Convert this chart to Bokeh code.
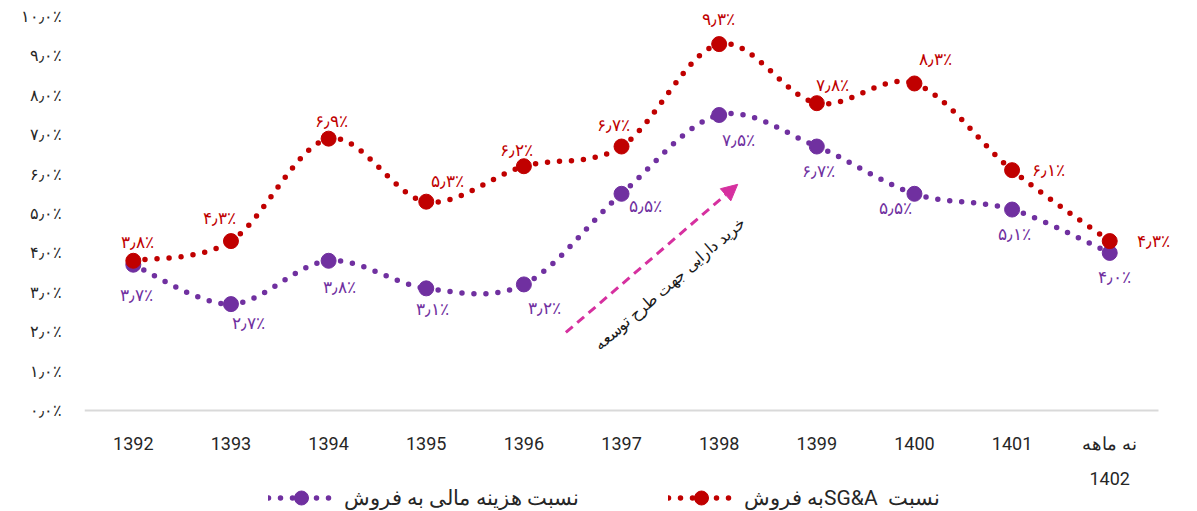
import numpy as np
from bokeh.plotting import figure
from bokeh.models import (ColumnDataSource, Range1d, FixedTicker, Legend, LegendItem,
                          Arrow, NormalHead, Label, LabelSet)
from bokeh.core.properties import value
from bokeh.embed import file_html
from bokeh.resources import INLINE

# ---------------- data ----------------
years = ["1392", "1393", "1394", "1395", "1396", "1397", "1398", "1399", "1400", "1401", "نه ماهه\n1402"]
sga_ratio = [3.8, 4.3, 6.9, 5.3, 6.2, 6.7, 9.3, 7.8, 8.3, 6.1, 4.3]
fin_ratio = [3.7, 2.7, 3.8, 3.1, 3.2, 5.5, 7.5, 6.7, 5.5, 5.1, 4.0]
y_ticks = [0, 1, 2, 3, 4, 5, 6, 7, 8, 9, 10]
y_tick_labels = ["۰٫۰٪", "۱٫۰٪", "۲٫۰٪", "۳٫۰٪", "۴٫۰٪", "۵٫۰٪", "۶٫۰٪", "۷٫۰٪", "۸٫۰٪", "۹٫۰٪", "۱۰٫۰٪"]
sga_name = "\u202Bنسبت  SG&Aبه فروش\u202C"
fin_name = "نسبت هزینه مالی به فروش"
arrow_text = "خرید دارایی جهت طرح توسعه"

# label offsets (screen px) - styling
sga_dx = [4, -11, 3, 21, -7, -8, -1, 16, 21, 36, 44]
sga_dy = [19, 23, 18, 21, 16, 22, 25, 18, 24, 0, 0]
fin_dx = [3, 18, 11, 6, 21, 24, 19, 2, -19, 2, 5]
fin_dy = [-30, -19, -26, -21, -24, -12, -25, -24, -14, -24, -24]

RED = "#c00000"
PURPLE = "#7030a0"
FA_DIGITS = str.maketrans("0123456789.%", "۰۱۲۳۴۵۶۷۸۹٫٪")


def fa(v):
    return f"{v:.1f}%".translate(FA_DIGITS)


def bezier_cols(ys):
    ys = np.asarray(ys, dtype=float)
    xs = np.arange(len(ys), dtype=float)
    n = len(ys)
    d = dict(x0=[], y0=[], x1=[], y1=[], cx0=[], cy0=[], cx1=[], cy1=[])
    for i in range(n - 1):
        a = max(i - 1, 0)
        b = min(i + 2, n - 1)
        d["x0"].append(xs[i]); d["y0"].append(ys[i])
        d["x1"].append(xs[i + 1]); d["y1"].append(ys[i + 1])
        d["cx0"].append(xs[i] + (xs[i + 1] - xs[a]) / 6.0)
        d["cy0"].append(ys[i] + (ys[i + 1] - ys[a]) / 6.0)
        d["cx1"].append(xs[i + 1] - (xs[b] - xs[i]) / 6.0)
        d["cy1"].append(ys[i + 1] - (ys[b] - ys[i]) / 6.0)
    return ColumnDataSource(d)


xidx = list(range(len(years)))

W, H = 1190, 510
LEFT = 84
PX_X = 97.64   # px per category
PX_Y = 39.4    # px per percent
x_start = -0.5
x_end = x_start + (W - LEFT) / PX_X
y_end = 10 + 16 / PX_Y
y_start = y_end - H / PX_Y

p = figure(width=W, height=H, output_backend="svg", toolbar_location=None,
           x_range=Range1d(x_start, x_end), y_range=Range1d(y_start, y_end),
           min_border_left=LEFT, min_border_right=0, min_border_top=0, min_border_bottom=0)
p.outline_line_color = None
p.xgrid.grid_line_color = None
p.ygrid.grid_line_color = None
p.background_fill_color = "white"

# axes
p.xaxis.fixed_location = 0
p.xaxis.bounds = (-0.5, len(years) - 0.5)
p.xaxis.ticker = FixedTicker(ticks=xidx)
p.xaxis.major_label_overrides = {i: years[i] for i in xidx}
p.xaxis.axis_line_color = "#d9d9d9"
p.xaxis.axis_line_width = 2
p.xaxis.major_tick_line_color = None
p.xaxis.minor_tick_line_color = None
p.xaxis.major_label_standoff = 16
p.xaxis.major_label_text_font = "Roboto"
p.xaxis.major_label_text_font_size = "18px"
p.xaxis.major_label_text_color = "#262626"
p.xaxis.major_label_text_line_height = 1.7

p.yaxis.ticker = FixedTicker(ticks=y_ticks)
p.yaxis.major_label_overrides = {t: l for t, l in zip(y_ticks, y_tick_labels)}
p.yaxis.axis_line_color = None
p.yaxis.major_tick_line_color = None
p.yaxis.minor_tick_line_color = None
p.yaxis.major_label_standoff = 17
p.yaxis.major_label_text_font = "Roboto"
p.yaxis.major_label_text_font_size = "16px"
p.yaxis.major_label_text_color = "#262626"

# series
legend_items = []
for ys, color, name, dx, dy in [(fin_ratio, PURPLE, fin_name, fin_dx, fin_dy),
                                (sga_ratio, RED, sga_name, sga_dx, sga_dy)]:
    bsrc = bezier_cols(ys)
    p.bezier(x0="x0", y0="y0", x1="x1", y1="y1", cx0="cx0", cy0="cy0", cx1="cx1", cy1="cy1",
             source=bsrc, line_color=color, line_width=5.5, line_dash="0 12", line_cap="round")
    src = ColumnDataSource(dict(x=xidx, y=ys, t=[fa(v) for v in ys], dx=dx, dy=dy))
    sc = p.scatter("x", "y", source=src, size=15, fill_color=color, line_color=color)
    lab = LabelSet(x="x", y="y", text="t", x_offset="dx", y_offset="dy", source=src,
                   text_color=color, text_font=value("Roboto"), text_font_size="17px",
                   text_align="center", text_baseline="middle")
    p.add_layout(lab)
    leg_line = p.line(x=[np.nan], y=[np.nan], line_color=color, line_width=5.5,
                      line_dash="0 12", line_cap="round")
    legend_items.append(LegendItem(label=name, renderers=[leg_line, sc]))

# arrow annotation
arrow = Arrow(x_start=4.43, y_start=1.98, x_end=6.19, y_end=5.74,
              line_color="#d6309f", line_width=3, line_dash="9 6",
              end=NormalHead(size=16, fill_color="#d6309f", line_color="#d6309f"))
p.add_layout(arrow)
p.add_layout(Label(x=5.49, y=3.22, text=arrow_text, angle=41, angle_units="deg",
                   text_align="center", text_baseline="middle", text_font="Roboto",
                   text_font_size="16px", text_color="#1a1a1a"))

legend = Legend(items=legend_items, orientation="horizontal", location=(184, -5),
                glyph_width=66, glyph_height=35, label_standoff=10, spacing=89,
                padding=0, margin=0, border_line_color=None, background_fill_alpha=0,
                label_text_font="Roboto", label_text_font_size="21px", label_text_color="#262626")
p.add_layout(legend, "center")

open("out.html", "w").write(file_html(p, INLINE))
